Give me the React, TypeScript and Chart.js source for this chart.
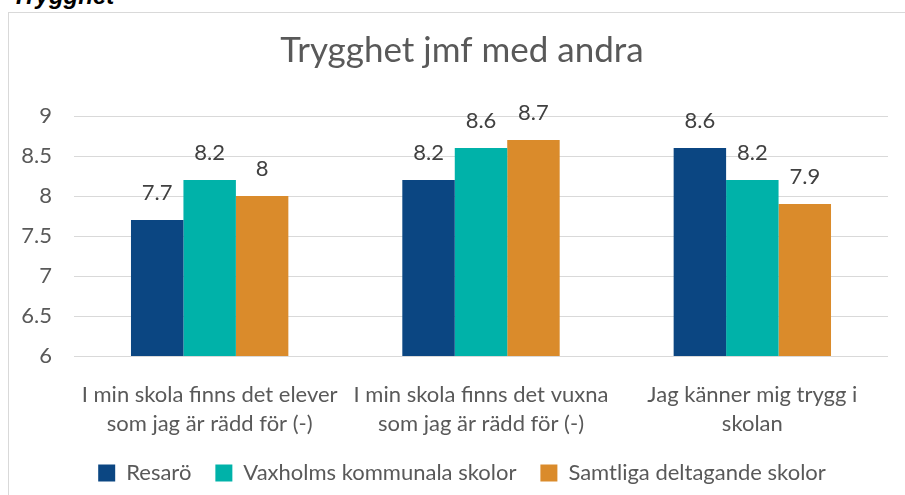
import React, { useEffect, useRef } from "react";
import { Chart, registerables } from "chart.js";

Chart.register(...registerables);

const chartTitle = "Trygghet jmf med andra";
const sectionHeading = "Trygghet";
const categories: string[][] = [
  ["I min skola finns det elever", "som jag är rädd för (-)"],
  ["I min skola finns det vuxna", "som jag är rädd för (-)"],
  ["Jag känner mig trygg i", "skolan"],
];
const seriesNames = ["Resarö", "Vaxholms kommunala skolor", "Samtliga deltagande skolor"];
const resaro = [7.7, 8.2, 8.6];
const vaxholm = [8.2, 8.6, 8.2];
const samtliga = [8.0, 8.7, 7.9];
const seriesColors = ["#0B4682", "#00B2A9", "#DA8B2B"];
const yMin = 6;
const yMax = 9;
const yStep = 0.5;

const FONT = "Lato, 'Open Sans', sans-serif";

const dataLabelPlugin = {
  id: "dataLabels",
  afterDatasetsDraw(chart: any) {
    const ctx = chart.ctx;
    ctx.save();
    ctx.font = `22px ${FONT}`;
    ctx.fillStyle = "#404040";
    ctx.textAlign = "center";
    ctx.textBaseline = "middle";
    chart.data.datasets.forEach((ds: any, i: number) => {
      const meta = chart.getDatasetMeta(i);
      meta.data.forEach((el: any, j: number) => {
        const v = ds.data[j];
        ctx.fillText(String(v), el.x, el.y - 27);
      });
    });
    ctx.restore();
  },
};

export default function App() {
  const ref = useRef<HTMLCanvasElement | null>(null);

  useEffect(() => {
    if (!ref.current) return;
    const chart = new Chart(ref.current, {
      type: "bar",
      data: {
        labels: categories,
        datasets: [
          { label: seriesNames[0], data: resaro, backgroundColor: seriesColors[0] },
          { label: seriesNames[1], data: vaxholm, backgroundColor: seriesColors[1] },
          { label: seriesNames[2], data: samtliga, backgroundColor: seriesColors[2] },
        ],
      },
      options: {
        animation: false,
        responsive: false,
        devicePixelRatio: 1,
        layout: { padding: { left: 10, right: 0, top: 0, bottom: 1 } },
        datasets: { bar: { categoryPercentage: 0.58, barPercentage: 1 } },
        plugins: {
          title: {
            display: true,
            text: chartTitle,
            color: "#595959",
            font: { family: FONT, size: 35, weight: "normal" },
            padding: { top: 17, bottom: 44 },
          },
          legend: {
            position: "bottom",
            labels: {
              color: "#595959",
              font: { family: FONT, size: 22 },
              boxWidth: 17,
              boxHeight: 17,
              padding: 24,
            },
          },
          tooltip: { enabled: false },
        },
        scales: {
          x: {
            grid: { display: false, drawTicks: false },
            border: { display: false },
            ticks: {
              color: "#595959",
              font: { family: FONT, size: 22, lineHeight: 1.32 },
              padding: 24,
              maxRotation: 0,
              autoSkip: false,
            },
            afterFit(s: any) {
              s.height = 82;
            },
          },
          y: {
            min: yMin,
            max: yMax,
            grid: { color: "#D9D9D9", lineWidth: 1, drawTicks: false },
            border: { display: false },
            ticks: {
              stepSize: yStep,
              color: "#595959",
              font: { family: FONT, size: 22 },
              padding: 22,
              callback: (v: any) => String(Number(v)),
            },
            afterFit(s: any) {
              s.width = 55;
            },
          },
          pad: {
            position: "right",
            display: true,
            grid: { display: false },
            border: { display: false },
            ticks: { display: false },
            afterFit(s: any) {
              s.width = 17;
            },
          },
        },
      } as any,
      plugins: [dataLabelPlugin],
    });
    return () => chart.destroy();
  }, []);

  return (
    <div
      style={{
        position: "absolute",
        left: 0,
        top: 0,
        width: 905,
        height: 495,
        overflow: "hidden",
        background: "#FFFFFF",
      }}
    >
      <div
        style={{
          position: "absolute",
          left: 12,
          top: -16,
          fontFamily: "'Liberation Sans', Arial, sans-serif",
          fontWeight: "bold",
          fontStyle: "italic",
          fontSize: 24,
          lineHeight: "24px",
          color: "#000000",
          whiteSpace: "nowrap",
        }}
      >
        {sectionHeading}
      </div>
      <div
        style={{
          position: "absolute",
          left: 8,
          top: 12,
          width: 1000,
          height: 1000,
          border: "1px solid #D9D9D9",
        }}
      />
      <canvas
        ref={ref}
        width={896}
        height={482}
        style={{ position: "absolute", left: 9, top: 13, width: 896, height: 482 }}
      />
    </div>
  );
}
